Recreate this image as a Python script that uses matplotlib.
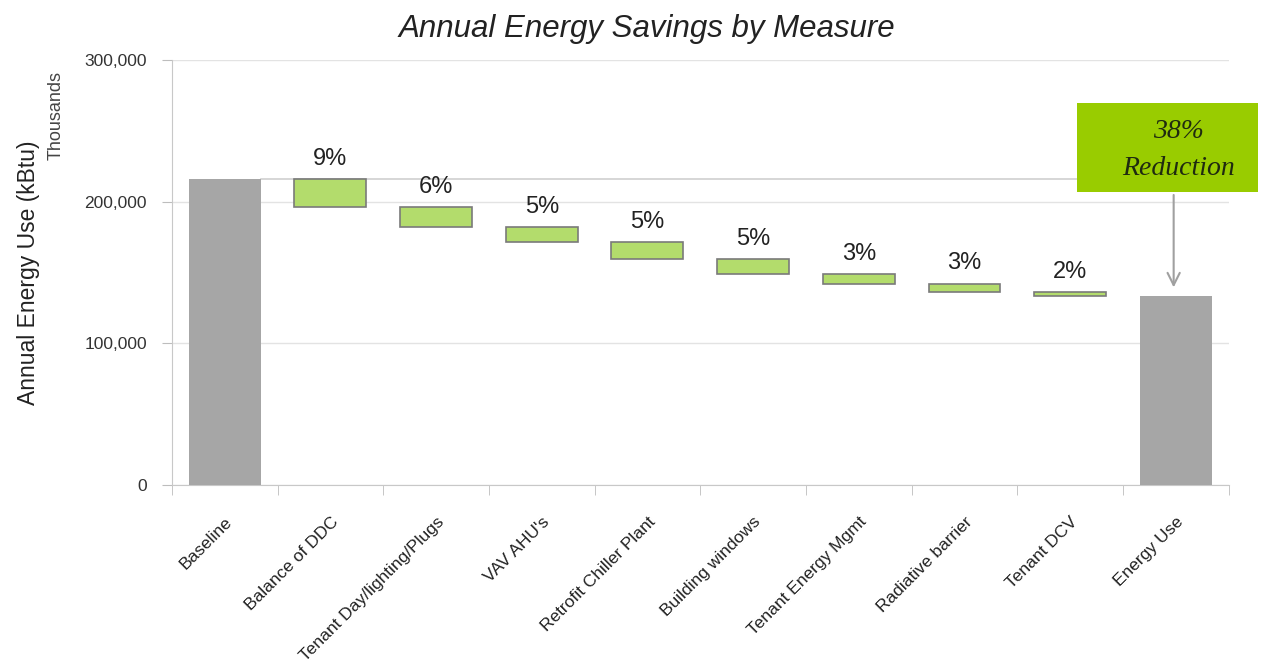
import numpy as np
import matplotlib
matplotlib.use("Agg")
import matplotlib.pyplot as plt
from matplotlib.patches import Rectangle
from matplotlib.ticker import FuncFormatter

# data (kBtu, thousands)
categories = ["Baseline", "Balance of DDC", "Tenant Day/lighting/Plugs", "VAV AHU's",
              "Retrofit Chiller Plant", "Building windows", "Tenant Energy Mgmt",
              "Radiative barrier", "Tenant DCV", "Energy Use"]
baseline = 216000
savings = [19600, 14100, 11000, 11800, 10800, 6400, 5900, 2800]
pct_labels = ["9%", "6%", "5%", "5%", "5%", "3%", "3%", "2%"]
yticks = [0, 100000, 200000, 300000]

plt.rcParams['font.family'] = ['Liberation Sans Narrow', 'Liberation Sans', 'DejaVu Sans']

fig = plt.figure(figsize=(12.64, 6.69), dpi=100)
ax = fig.add_axes([0.136, 0.275, 0.836, 0.635])

x = np.arange(len(categories))
final = baseline - sum(savings)
tops = baseline - np.concatenate([[0], np.cumsum(savings)])

# gray total bars
ax.bar([x[0], x[-1]], [baseline, final], width=0.68, color='#a6a6a6', zorder=3)

# green step bars
for i, s in enumerate(savings):
    ax.bar(x[i + 1], s, bottom=tops[i + 1], width=0.68, color='#b3dc6c',
           edgecolor='#7a7a7a', linewidth=1.2, zorder=3)
    ax.text(x[i + 1], tops[i] + 6500, pct_labels[i], ha='center', va='bottom',
            fontsize=17, family=['Liberation Sans', 'DejaVu Sans'], color='#222222', zorder=4)

# connector at baseline level
ax.plot([x[0] + 0.34, 8.07], [baseline, baseline], color='#d0d0d0', lw=1.2, zorder=2)

ax.set_xlim(-0.5, len(categories) - 0.5)
ax.set_ylim(0, 300000)
ax.set_yticks(yticks)
ax.yaxis.set_major_formatter(FuncFormatter(lambda v, p: "{:,.0f}".format(v)))
ax.grid(axis='y', color='#e3e3e3', lw=1, zorder=0)
ax.set_axisbelow(True)

ax.set_xticks(x)
ax.set_xticklabels(categories, rotation=45, ha='right', rotation_mode='anchor', fontsize=12.5)
ax.set_xticks(np.arange(-0.5, len(categories)), minor=True)
ax.tick_params(axis='x', which='major', length=0, pad=21)
ax.tick_params(axis='x', which='minor', length=7, color='#bdbdbd')
ax.tick_params(axis='y', length=7, color='#bdbdbd', labelsize=12.5, labelcolor='#333333', pad=11)
for lab in ax.get_xticklabels():
    lab.set_color('#222222')

for s in ['top', 'right']:
    ax.spines[s].set_visible(False)
for s in ['left', 'bottom']:
    ax.spines[s].set_color('#c8c8c8')

ax.set_ylabel("Annual Energy Use (kBtu)", fontsize=16.5, color='#222222', labelpad=32)
fig.text(0.0445, 0.828, "Thousands", rotation=90, fontsize=13, color='#444444', ha='center', va='center')

fig.text(0.512, 0.957, "Annual Energy Savings by Measure", ha='center', va='center',
         fontsize=22.5, style='italic', family=['Liberation Sans', 'DejaVu Sans'], color='#222222')

# callout box
box = Rectangle((8.07, 206800), 1.71, 62800, facecolor='#99cc00', edgecolor='none',
                clip_on=False, zorder=5)
ax.add_patch(box)
ax.text(9.03, 249800, "38%", ha='center', va='center', fontsize=20, style='italic',
        family=['Liberation Serif', 'DejaVu Serif'], color='#1f2a10', zorder=6)
ax.text(9.03, 223700, "Reduction", ha='center', va='center', fontsize=20, style='italic',
        family=['Liberation Serif', 'DejaVu Serif'], color='#1f2a10', zorder=6)
ax.annotate("", xy=(8.98, final + 4000), xytext=(8.98, 206800),
            arrowprops=dict(arrowstyle='->', color='#a0a0a0', lw=1.5, mutation_scale=22), zorder=4)

fig.savefig("out.png", dpi=100)
